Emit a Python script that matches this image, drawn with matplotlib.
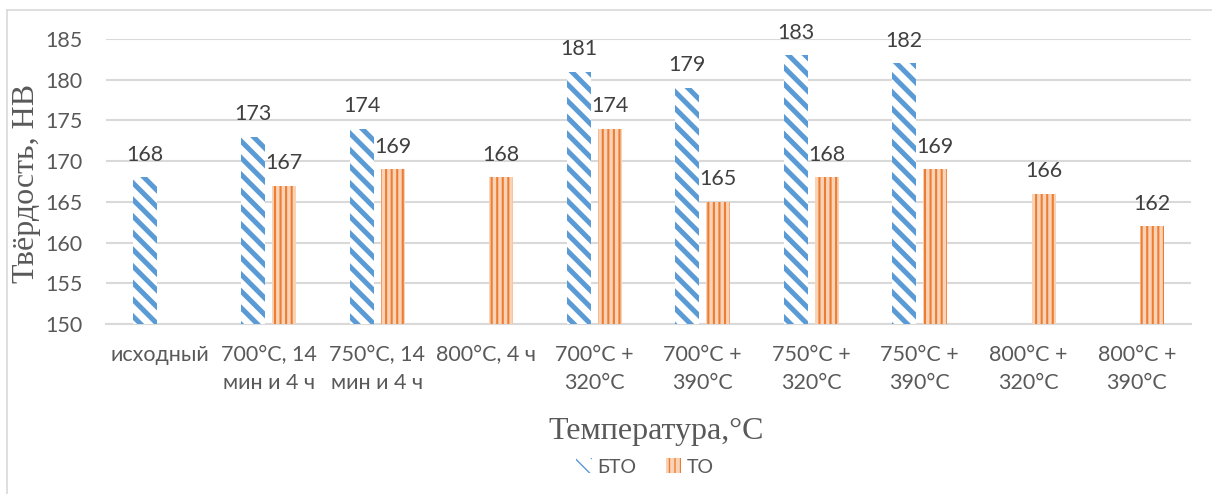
import numpy as np
import matplotlib
matplotlib.use("Agg")
import matplotlib.pyplot as plt
from matplotlib.lines import Line2D
from matplotlib.patches import Patch

# Hardness data per treatment mode (None = not measured)
categories = [
    "исходный", "700°C, 14\nмин и 4 ч", "750°C, 14\nмин и 4 ч", "800°C, 4 ч",
    "700°C +\n320°C", "700°C +\n390°C", "750°C +\n320°C", "750°C +\n390°C",
    "800°C +\n320°C", "800°C +\n390°C",
]
bto_values = [168, 173, 174, None, 181, 179, 183, 182, None, None]
to_values = [None, 167, 169, 168, 174, 165, 168, 169, 166, 162]
y_ticks = [150, 155, 160, 165, 170, 175, 180, 185]

BLUE = "#5B9BD5"
ORANGE = "#ED7D31"
TO_FACE = "#F9D3B8"
TEXT = "#595959"
GRID = "#D9D9D9"
SANS = ["Lato", "DejaVu Sans"]
SERIF = ["Liberation Serif", "DejaVu Serif"]
FS = 15.5

W, H = 1212, 494
fig = plt.figure(figsize=(W / 100, H / 100), dpi=100)
ax = fig.add_axes([106 / W, 1 - 324 / H, (1191 - 106) / W, (324 - 39) / H])

x = np.arange(len(categories))
width = 0.22
offset = 0.143

BTO_HATCH = "\\\\"
TO_HATCH = "|||"
BTO_HLW = 3.6
TO_HLW = 1.5


def draw_series(values, shift, hatch, hcolor, face, hlw):
    xs = [xi + shift for xi, v in zip(x, values) if v is not None]
    vs = [v for v in values if v is not None]
    with plt.rc_context({"hatch.linewidth": hlw}):
        bars = ax.bar(xs, [v - 150 for v in vs], width, bottom=150,
                      facecolor=face, edgecolor=hcolor, linewidth=0,
                      hatch=hatch, zorder=3)
    for b, v in zip(bars, vs):
        ax.text(b.get_x() + b.get_width() / 2, v + 1.55, str(v),
                ha="center", va="bottom", fontsize=FS, color="#404040",
                family=SANS, zorder=4)
    return bars


draw_series(bto_values, -offset, BTO_HATCH, BLUE, "white", BTO_HLW)
draw_series(to_values, offset, TO_HATCH, ORANGE, TO_FACE, TO_HLW)

ax.set_xlim(-0.5, len(categories) - 0.5)
ax.set_ylim(150, 185)
ax.set_yticks(y_ticks)
ax.set_xticks(x)
ax.set_xticklabels(categories, fontsize=FS, color=TEXT, family=SANS,
                   linespacing=1.5)
ax.tick_params(axis="x", length=0, pad=15)
ax.tick_params(axis="y", length=0, pad=17)
for lbl in ax.get_yticklabels():
    lbl.set_fontsize(FS)
    lbl.set_color(TEXT)
    lbl.set_family(SANS)

ax.grid(axis="y", color=GRID, linewidth=1.5, zorder=0)
ax.set_axisbelow(True)
for side in ("top", "right", "left"):
    ax.spines[side].set_visible(False)
ax.spines["bottom"].set_color(GRID)
ax.spines["bottom"].set_linewidth(1.5)
ax.spines["bottom"].set_zorder(1)

fig.text(27 / W, 1 - 183 / H, "Твёрдость, HB", rotation=90, ha="center",
         va="center", fontsize=23, color=TEXT, family=SERIF)
fig.text(656 / W, 1 - 431 / H, "Температура,°C", ha="center", va="center",
         fontsize=23, color=TEXT, family=SERIF)

with plt.rc_context({"hatch.linewidth": BTO_HLW}):
    h1 = Patch(facecolor="white", edgecolor=BLUE, linewidth=0, hatch=BTO_HATCH)
with plt.rc_context({"hatch.linewidth": TO_HLW}):
    h2 = Patch(facecolor=TO_FACE, edgecolor=ORANGE, linewidth=0, hatch=TO_HATCH)
fig.legend([h1, h2], ["БТО", "ТО"], loc="center", bbox_to_anchor=(645 / W, 1 - 467 / H),
           ncol=2, frameon=False, handlelength=0.8, handleheight=0.8,
           handletextpad=0.3, columnspacing=1.5,
           prop={"family": SANS, "size": 14}, labelcolor=TEXT)

# Outer chart frame (left and top edges)
fig.add_artist(Line2D([7 / W, 7 / W], [0, 1 - 10 / H], transform=fig.transFigure,
                      color=GRID, linewidth=1.2))
fig.add_artist(Line2D([7 / W, 1], [1 - 10 / H, 1 - 10 / H], transform=fig.transFigure,
                      color=GRID, linewidth=1.2))

fig.savefig("out.png", dpi=100)
